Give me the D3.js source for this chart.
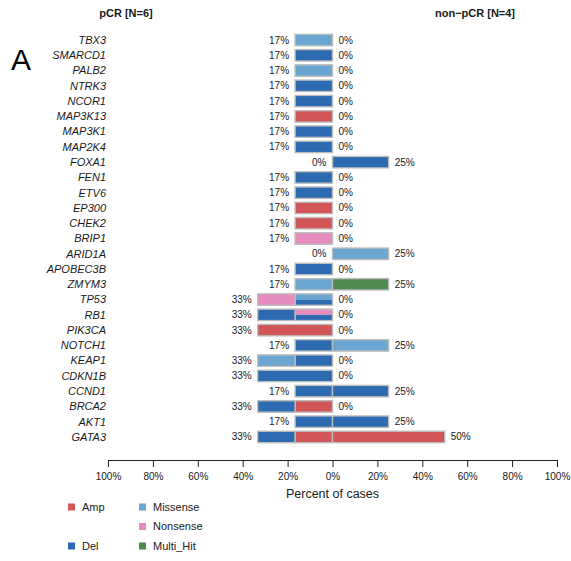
<!DOCTYPE html>
<html>
<head>
<meta charset="utf-8">
<script src="https://cdn.jsdelivr.net/npm/d3@7"></script>
<style>
  html, body { margin: 0; padding: 0; background: #fff; }
  svg { display: block; font-family: "Liberation Sans", Arial, Helvetica, sans-serif; }
</style>
</head>
<body>
<svg id="chart" width="571" height="561"></svg>
<script>
// Genes, top to bottom
const genes = ["TBX3", "SMARCD1", "PALB2", "NTRK3", "NCOR1", "MAP3K13", "MAP3K1", "MAP2K4",
  "FOXA1", "FEN1", "ETV6", "EP300", "CHEK2", "BRIP1", "ARID1A", "APOBEC3B", "ZMYM3",
  "TP53", "RB1", "PIK3CA", "NOTCH1", "KEAP1", "CDKN1B", "CCND1", "BRCA2", "AKT1", "GATA3"];

// Cohort sizes
const pcrN = 6;
const nonPcrN = 4;
const cohortTitles = ["pCR [N=6]", "non\u2212pCR [N=4]"];

// Altered samples per gene, stacked from the centre outwards: [class, samples].
// A class written "A/B" is one sample carrying both alterations.
const pcrAlterations = [
  [["Missense", 1]], [["Del", 1]], [["Missense", 1]], [["Del", 1]], [["Del", 1]], [["Amp", 1]],
  [["Del", 1]], [["Del", 1]], [], [["Del", 1]], [["Del", 1]], [["Amp", 1]], [["Amp", 1]],
  [["Nonsense", 1]], [], [["Del", 1]], [["Missense", 1]],
  [["Missense/Del", 1], ["Nonsense", 1]], [["Nonsense/Del", 1], ["Del", 1]], [["Amp", 2]],
  [["Del", 1]], [["Del", 1], ["Missense", 1]], [["Del", 2]], [["Del", 1]],
  [["Amp", 1], ["Del", 1]], [["Del", 1]], [["Amp", 1], ["Del", 1]]
];
const nonPcrAlterations = [
  [], [], [], [], [], [], [], [], [["Del", 1]], [], [], [], [], [], [["Missense", 1]], [],
  [["Multi_Hit", 1]], [], [], [], [["Missense", 1]], [], [], [["Del", 1]], [], [["Del", 1]],
  [["Amp", 2]]
];

// Legend entries and axis ticks
const classes = ["Amp", "Del", "Missense", "Nonsense", "Multi_Hit"];
const classColors = ["#D25557", "#2C6BB1", "#6AA6D0", "#E58BBE", "#4E8B50"];
const tickValues = [-100, -80, -60, -40, -20, 0, 20, 40, 60, 80, 100];

const svg = d3.select("#chart");
const color = d3.scaleOrdinal().domain(classes).range(classColors);

// Signed percent: negative to the left (pCR), positive to the right (non-pCR)
const x = d3.scaleLinear().domain([-100, 100]).range([108, 557]);
const y = d3.scaleBand().domain(genes).range([32.4, 444.6]).paddingInner(0.25).paddingOuter(0.125);

const pct = v => Math.round(v) + "%";
const txtColor = "#1a1a1a";

function drawSide(alterations, n, sign) {
  alterations.forEach((segs, i) => {
    const g = genes[i];
    const y0 = y(g), h = y.bandwidth();
    let acc = 0;
    segs.forEach(([cls, count]) => {
      const a = acc, b = acc + count / n * 100;
      acc = b;
      const xa = x(sign * a), xb = x(sign * b);
      const left = Math.min(xa, xb), w = Math.abs(xb - xa);
      const parts = cls.split("/");
      parts.forEach((p, k) => {
        svg.append("rect")
          .attr("x", left).attr("y", y0 + h * k / parts.length)
          .attr("width", w).attr("height", h / parts.length)
          .attr("fill", color(p));
      });
      svg.append("rect")
        .attr("x", left).attr("y", y0).attr("width", w).attr("height", h)
        .attr("fill", "none").attr("stroke", "#bdbdbd").attr("stroke-width", 1.4);
    });
    const total = segs.reduce((s, d) => s + d[1], 0) / n * 100;
    svg.append("text")
      .attr("x", x(sign * total) + sign * 6)
      .attr("y", y0 + h / 2)
      .attr("dy", "0.35em")
      .attr("text-anchor", sign < 0 ? "end" : "start")
      .attr("font-size", 10)
      .attr("fill", txtColor)
      .text(pct(total));
  });
}

drawSide(pcrAlterations, pcrN, -1);
drawSide(nonPcrAlterations, nonPcrN, 1);

// Gene names
svg.append("g").selectAll("text").data(genes).join("text")
  .attr("x", 106)
  .attr("y", d => y(d) + y.bandwidth() / 2)
  .attr("dy", "0.35em")
  .attr("text-anchor", "end")
  .attr("font-size", 11)
  .attr("font-style", "italic")
  .attr("fill", txtColor)
  .text(d => d);

// Cohort titles
svg.append("text").attr("x", 126).attr("y", 17).attr("text-anchor", "middle")
  .attr("font-size", 11).attr("font-weight", "bold").attr("fill", txtColor).text(cohortTitles[0]);
svg.append("text").attr("x", 475).attr("y", 17).attr("text-anchor", "middle")
  .attr("font-size", 11).attr("font-weight", "bold").attr("fill", txtColor).text(cohortTitles[1]);

// Panel letter
svg.append("text").attr("x", 11).attr("y", 70).attr("font-size", 30).attr("fill", "#000").text("A");

// Bottom axis
const axis = svg.append("g").attr("transform", "translate(0,460)")
  .call(d3.axisBottom(x).tickValues(tickValues).tickSize(7).tickSizeOuter(0).tickPadding(6)
    .tickFormat(d => Math.abs(d) + "%"));
axis.select(".domain").attr("stroke", "#222");
axis.selectAll(".tick line").attr("stroke", "#222");
axis.selectAll(".tick text").attr("font-size", 10).attr("fill", txtColor)
  .attr("font-family", "'Liberation Sans', Arial, sans-serif");

svg.append("text").attr("x", x(0)).attr("y", 498).attr("text-anchor", "middle")
  .attr("font-size", 12.5).attr("fill", txtColor).text("Percent of cases");

// Legend
const legendPos = {
  "Amp": [68, 507], "Del": [68, 546],
  "Missense": [139, 507], "Nonsense": [139, 526.5], "Multi_Hit": [139, 546]
};
classes.forEach(c => {
  const [lx, ly] = legendPos[c];
  svg.append("rect").attr("x", lx).attr("y", ly - 3.5).attr("width", 7).attr("height", 7)
    .attr("fill", color(c));
  svg.append("text").attr("x", lx + 14).attr("y", ly).attr("dy", "0.35em")
    .attr("font-size", 11).attr("fill", txtColor).text(c);
});
</script>
</body>
</html>
